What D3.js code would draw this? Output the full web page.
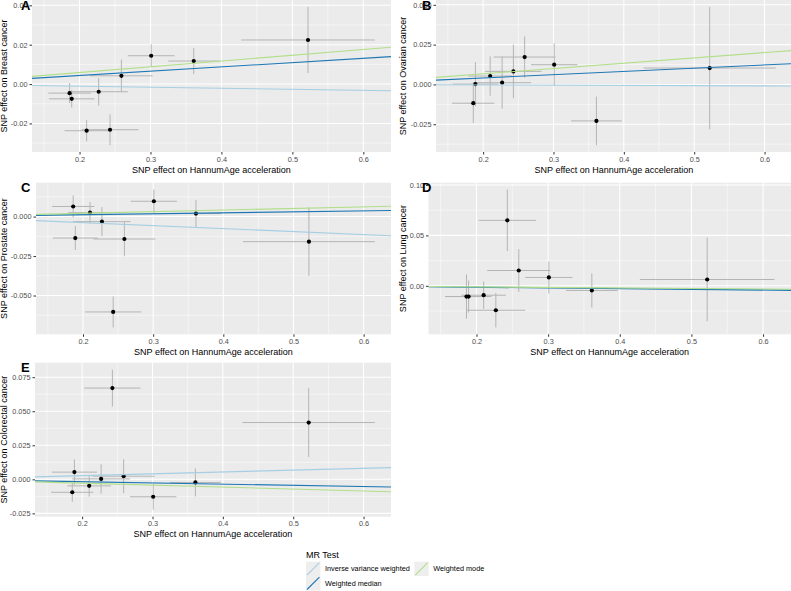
<!DOCTYPE html>
<html>
<head>
<meta charset="utf-8">
<script src="https://cdn.jsdelivr.net/npm/d3@7"></script>
<style>
    body { margin: 0; background: #fff; }
    text { font-family: "Liberation Sans", Arial, sans-serif; }
</style>
</head>
<body>
<svg></svg>
<script>
// exposure side is the same 9 SNPs in every panel
var snpX   = [0.186, 0.189, 0.210, 0.227, 0.243, 0.259, 0.301, 0.361, 0.522]
var snpXse = [0.030, 0.032, 0.031, 0.041, 0.040, 0.044, 0.033, 0.036, 0.094]

// outcome effects
var breastY  = [-0.0046, -0.0075, -0.0237, -0.0039, -0.0232, 0.0042, 0.0144, 0.0117, 0.0224]
var breastSe = [0.0051, 0.0044, 0.0054, 0.0070, 0.0078, 0.0082, 0.0058, 0.0066, 0.0168]

var ovarianY  = [-0.0118, 0.0002, 0.0053, 0.0011, 0.0082, 0.0172, 0.0124, -0.0229, 0.0103]
var ovarianSe = [0.0124, 0.0139, 0.0124, 0.0163, 0.0168, 0.0130, 0.0134, 0.0152, 0.0384]

var prostateY  = [0.0064, -0.0136, 0.0025, -0.0032, -0.0604, -0.0142, 0.0097, 0.0019, -0.0159]
var prostateSe = [0.0070, 0.0076, 0.0068, 0.0092, 0.0098, 0.0109, 0.0074, 0.0087, 0.0217]

var lungY  = [-0.0106, -0.0106, -0.0093, -0.0242, 0.0649, 0.0152, 0.0083, -0.0046, 0.0063]
var lungSe = [0.0219, 0.0160, 0.0136, 0.0170, 0.0305, 0.0212, 0.0159, 0.0169, 0.0414]

var colorectalY  = [-0.0095, 0.0053, -0.0048, 0.0003, 0.0670, 0.0023, -0.0128, -0.0023, 0.0417]
var colorectalSe = [0.0070, 0.0093, 0.0079, 0.0108, 0.0135, 0.0125, 0.0095, 0.0103, 0.0252]

// MR slopes (lines go through the origin)
var methods = ["Inverse variance weighted", "Weighted median", "Weighted mode"]
var methodColors = ["#a6cee3", "#1f78b4", "#b2df8a"]
var breastSlopes     = [-0.0053, 0.0218, 0.0293]
var ovarianSlopes    = [-0.0015, 0.0204, 0.0333]
var prostateSlopes   = [-0.0190, 0.0060, 0.0103]
var lungSlopes       = [-0.0063, -0.0070, -0.0052]
var colorectalSlopes = [0.0135, -0.0088, -0.0143]

var outcomes = ["Breast cancer", "Ovarian cancer", "Prostate cancer", "Lung cancer", "Colorectal cancer"]
var letters  = ["A", "B", "C", "D", "E"]
var xTicks = [0.2, 0.3, 0.4, 0.5, 0.6]
var breastTicks     = [-0.02, 0.00, 0.02, 0.04]
var ovarianTicks    = [-0.025, 0.000, 0.025, 0.050]
var prostateTicks   = [-0.050, -0.025, 0.000]
var lungTicks       = [0.00, 0.05, 0.10]
var colorectalTicks = [-0.025, 0.000, 0.025, 0.050, 0.075]
var tickDigits = [2, 3, 3, 2, 3]

var mainCode = function(){
    var screen = {width: 791, height: 591}
    // panel boxes, fine tuned against the picture
    var boxes = [
        {x0: 32,    x1: 391,   y0: 0,     y1: 152,   col: 0},
        {x0: 436,   x1: 792,   y0: 0,     y1: 152,   col: 1},
        {x0: 36,    x1: 391,   y0: 182.7, y1: 334.3, col: 0},
        {x0: 428.5, x1: 791,   y0: 182.7, y1: 334.3, col: 1},
        {x0: 35,    x1: 391,   y0: 362.7, y1: 516.7, col: 0}
    ]
    var ys = [breastY, ovarianY, prostateY, lungY, colorectalY]
    var ses = [breastSe, ovarianSe, prostateSe, lungSe, colorectalSe]
    var slopes = [breastSlopes, ovarianSlopes, prostateSlopes, lungSlopes, colorectalSlopes]
    var yTicks = [breastTicks, ovarianTicks, prostateTicks, lungTicks, colorectalTicks]

    // ggplot style minus sign
    var loc = d3.formatLocale({decimal: ".", thousands: ",", grouping: [3], currency: ["", ""], minus: "-"})

    var svg = d3.select("svg")
        .attr("width", screen.width)
        .attr("height", screen.height)

    svg.append("rect").attr("width", screen.width).attr("height", screen.height).attr("fill", "#fff")

    //minor breaks = halfway between majors, plus one step outside
    var minors = function(ticks, domain){
        var step = ticks[1] - ticks[0]
        var out = []
        for (var i = -1; i < ticks.length; i++) {
            out.push(ticks[0] + (i + 0.5) * step)
        }
        return out.filter(function(v){return v > domain[0] && v < domain[1]})
    }

    var padded = function(lo, hi){
        var pad = (hi - lo) * 0.05
        return [lo - pad, hi + pad]
    }

    var xDomain = padded(
        d3.min(snpX, function(v, i){return v - snpXse[i]}),
        d3.max(snpX, function(v, i){return v + snpXse[i]}))

    var drawPanel = function(k){
        var b = boxes[k]
        var pts = snpX.map(function(x, i){
            return {x: x, xse: snpXse[i], y: ys[k][i], se: ses[k][i]}
        })
        var yDomain = padded(
            d3.min(pts, function(p){return p.y - p.se}),
            d3.max(pts, function(p){return p.y + p.se}))

        var xScale = d3.scaleLinear().domain(xDomain).range([b.x0, b.x1])
        var yScale = d3.scaleLinear().domain(yDomain).range([b.y1, b.y0])

        var g = svg.append("g").attr("id", "panel" + letters[k])

        //clip so the ablines stop at the panel edge
        svg.append("clipPath").attr("id", "clip" + k)
            .append("rect")
            .attr("x", b.x0).attr("y", b.y0)
            .attr("width", b.x1 - b.x0).attr("height", b.y1 - b.y0)

        g.append("rect")
            .attr("x", b.x0).attr("y", b.y0)
            .attr("width", b.x1 - b.x0).attr("height", b.y1 - b.y0)
            .attr("fill", "#ebebeb")

        var grid = g.append("g").attr("stroke", "#fff").attr("fill", "none")
        grid.selectAll(".xminor").data(minors(xTicks, xDomain)).enter().append("line")
            .attr("x1", function(d){return xScale(d)}).attr("x2", function(d){return xScale(d)})
            .attr("y1", b.y0).attr("y2", b.y1).attr("stroke-width", 0.5)
        grid.selectAll(".yminor").data(minors(yTicks[k], yDomain)).enter().append("line")
            .attr("y1", function(d){return yScale(d)}).attr("y2", function(d){return yScale(d)})
            .attr("x1", b.x0).attr("x2", b.x1).attr("stroke-width", 0.5)
        grid.selectAll(".xmajor").data(xTicks).enter().append("line")
            .attr("x1", function(d){return xScale(d)}).attr("x2", function(d){return xScale(d)})
            .attr("y1", b.y0).attr("y2", b.y1).attr("stroke-width", 1.05)
        grid.selectAll(".ymajor").data(yTicks[k]).enter().append("line")
            .attr("y1", function(d){return yScale(d)}).attr("y2", function(d){return yScale(d)})
            .attr("x1", b.x0).attr("x2", b.x1).attr("stroke-width", 1.05)

        var marks = g.append("g").attr("clip-path", "url(#clip" + k + ")")

        // error bars first, then points, then the MR lines on top
        marks.selectAll(".vbar").data(pts).enter().append("line")
            .attr("x1", function(p){return xScale(p.x)}).attr("x2", function(p){return xScale(p.x)})
            .attr("y1", function(p){return yScale(p.y - p.se)}).attr("y2", function(p){return yScale(p.y + p.se)})
            .attr("stroke", "#b4b4b4").attr("stroke-width", 1)
        marks.selectAll(".hbar").data(pts).enter().append("line")
            .attr("y1", function(p){return yScale(p.y)}).attr("y2", function(p){return yScale(p.y)})
            .attr("x1", function(p){return xScale(p.x - p.xse)}).attr("x2", function(p){return xScale(p.x + p.xse)})
            .attr("stroke", "#b4b4b4").attr("stroke-width", 1)
        marks.selectAll("circle").data(pts).enter().append("circle")
            .attr("cx", function(p){return xScale(p.x)})
            .attr("cy", function(p){return yScale(p.y)})
            .attr("r", 2.1)
            .attr("fill", "#000")

        marks.selectAll(".abline").data(slopes[k]).enter().append("line")
            .attr("x1", xScale(xDomain[0])).attr("x2", xScale(xDomain[1]))
            .attr("y1", function(s){return yScale(s * xDomain[0])})
            .attr("y2", function(s){return yScale(s * xDomain[1])})
            .attr("stroke", function(s, i){return methodColors[i]})
            .attr("stroke-width", 1.1)

        //axes
        var xAxis = d3.axisBottom(xScale).tickValues(xTicks).tickSize(2.5).tickPadding(2)
            .tickFormat(d3.format(".1f"))
        var yAxis = d3.axisLeft(yScale).tickValues(yTicks[k]).tickSize(2.5).tickPadding(2)
            .tickFormat(loc.format("." + tickDigits[k] + "f"))

        var gx = g.append("g").attr("transform", "translate(0," + b.y1 + ")").call(xAxis)
        var gy = g.append("g").attr("transform", "translate(" + b.x0 + ",0)").call(yAxis);
        [gx, gy].forEach(function(ax){
            ax.select(".domain").remove()
            ax.selectAll(".tick line").attr("stroke", "#333")
            ax.selectAll(".tick text").attr("fill", "#4d4d4d")
                .style("font-size", "7.3px").style("font-family", "Liberation Sans, Arial, sans-serif")
        })

        g.append("text")
            .attr("x", (b.x0 + b.x1) / 2)
            .attr("y", b.y1 + 20.7)
            .attr("text-anchor", "middle")
            .style("font-size", "9px")
            .text("SNP effect on HannumAge acceleration")

        var tx = b.col == 0 ? 7.3 : 405.5
        g.append("text")
            .attr("transform", "translate(" + tx + "," + ((b.y0 + b.y1) / 2) + ") rotate(-90)")
            .attr("text-anchor", "middle")
            .style("font-size", "9px")
            .text("SNP effect on " + outcomes[k])

        g.append("text")
            .attr("x", b.col == 0 ? 21 : 422)
            .attr("y", b.y0 + 9.5)
            .style("font-size", "13px")
            .style("font-weight", "bold")
            .text(letters[k])
    }

    var drawLegend = function(){
        var lg = svg.append("g").attr("id", "legend")
        lg.append("text").attr("x", 306).attr("y", 557.5)
            .style("font-size", "9px").text("MR Test")

        var key = 14.4
        // two rows, filled down the columns like ggplot does
        var spots = [{x: 306, y: 561.7}, {x: 306, y: 561.7 + key}, {x: 414.3, y: 561.7}]
        var items = lg.selectAll(".item").data(methods).enter().append("g")
            .attr("transform", function(m, i){return "translate(" + spots[i].x + "," + spots[i].y + ")"})
        items.append("rect").attr("width", key).attr("height", key).attr("fill", "#eeeeee")
        items.append("line")
            .attr("x1", 1).attr("y1", key - 1).attr("x2", key - 1).attr("y2", 1)
            .attr("stroke", function(m, i){return methodColors[i]})
            .attr("stroke-width", 1.1)
        items.append("text")
            .attr("x", key + 4.6)
            .attr("y", key / 2 + 2.6)
            .style("font-size", "7.3px")
            .text(function(m){return m})
    }

    for (var k = 0; k < outcomes.length; k++) drawPanel(k)
    drawLegend()
}

mainCode()
</script>
</body>
</html>
